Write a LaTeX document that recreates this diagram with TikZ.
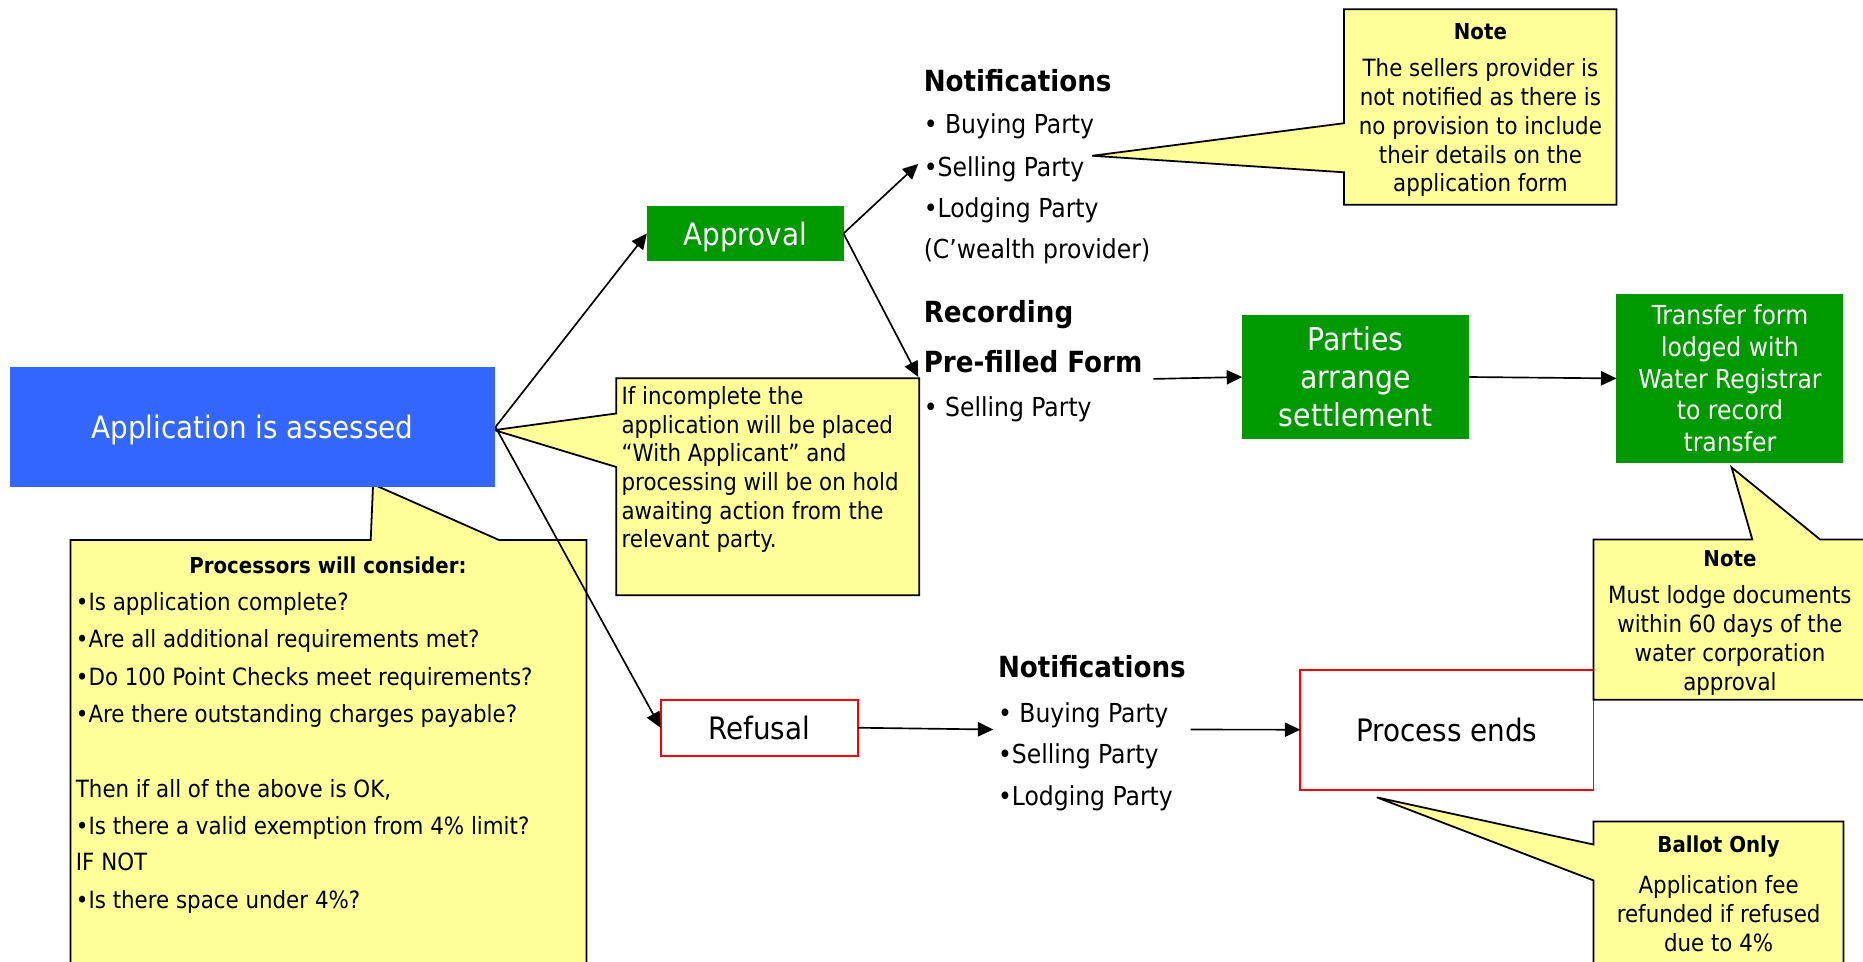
\documentclass[tikz,border=0pt]{standalone}
\usepackage{fontspec}
\setmainfont{DejaVu Sans Condensed}
\usetikzlibrary{arrows.meta}
\definecolor{appblue}{HTML}{3366FF}
\definecolor{okgreen}{HTML}{009900}
\definecolor{noteyellow}{HTML}{FFFF99}
\definecolor{endred}{HTML}{FF0000}
\newcommand\fBig{\fontsize{26}{31}\selectfont}
\newcommand\fHead{\bfseries\fontsize{24.5}{29}\selectfont}
\newcommand\fMid{\fontsize{22}{27}\selectfont}
\newcommand\fSmall{\fontsize{20}{24.2}\selectfont}
\newcommand\fSmallB{\bfseries\fontsize{18.5}{22}\selectfont}
\begin{document}
\begin{tikzpicture}[x=1pt,y=-1pt,
  box/.style={rectangle, inner sep=0pt, outer sep=0pt, align=center},
  greenbox/.style={box, fill=okgreen, text=white},
  redbox/.style={box, draw=endred, line width=1.5pt, fill=white},
  callout/.style={fill=noteyellow, draw=black, line width=1.5pt, line join=miter},
  txt/.style={inner sep=0pt, outer sep=0pt, anchor=base west},
  ctxt/.style={inner sep=0pt, outer sep=0pt, align=center},
  arr/.style={draw=black, line width=1.4pt, -{Triangle[length=13pt,width=12pt]}}
]
\useasboundingbox (0,0) rectangle (1568,809);
\fill[white] (0,0) rectangle (1568,809);
\clip (0,0) rectangle (1568,809);

% callouts behind the main box
\draw[callout] (312,454.5) -- (314,407.6) -- (420,454.5) -- (493.6,454.5) -- (493.6,830) -- (59.3,830) -- (59.3,454.5) -- cycle;
\draw[callout] (416,362) -- (518.6,348) -- (518.6,318.3) -- (773.7,318.3) -- (773.7,500.9) -- (518.6,500.9) -- (518.6,393) -- cycle;

% boxes
\node[box, fill=appblue, text=white, minimum width=408.7pt, minimum height=101.2pt, text depth=0pt, font=\fBig] (app) at (212.65,359.4) {Application is assessed};
\node[greenbox, minimum width=165.5pt, minimum height=47pt, text depth=0pt, font=\fBig] (appr) at (627.2,196.5) {Approval};
\node[redbox, minimum width=166pt, minimum height=47pt, font=\fBig] (refu) at (639,612.5) {Refusal};
\node[greenbox, minimum width=191.1pt, minimum height=103.8pt, font=\fontsize{26.5}{32}\selectfont] (part) at (1141,317.3) {Parties\\arrange\\settlement};
\node[greenbox, minimum width=191pt, minimum height=142.2pt, font=\fontsize{22}{26.75}\selectfont] (xfer) at (1456,318.5) {Transfer form\\lodged with\\Water Registrar\\to record\\transfer};
\node[redbox, minimum width=246.8pt, minimum height=101.1pt, font=\fBig] (pend) at (1217.8,614.15) {Process ends};

% other callouts
\draw[callout] (919.3,131.1) -- (1131.2,103.7) -- (1131.2,7.7) -- (1360.6,7.7) -- (1360.6,172.3) -- (1131.2,172.3) -- (1131.2,145) -- cycle;
\draw[callout] (1457.4,393.4) -- (1474.8,454) -- (1341.2,454) -- (1341.2,589) -- (1580,589) -- (1580,454) -- (1531.8,454) -- cycle;
\draw[callout] (1158.8,671.1) -- (1341.2,710.8) -- (1341.2,691.4) -- (1551.5,691.4) -- (1551.5,830) -- (1341.2,830) -- (1341.2,741) -- cycle;

% processors text
\node[ctxt, font=\fSmallB, anchor=base] (proct) at (276,482.6) {Processors will consider:};
\node[txt, font=\fSmall] (p1) at (63.9,514.2) {•Is application complete?};
\node[txt, font=\fSmall] (p2) at (63.9,545.1) {•Are all additional requirements met?};
\node[txt, font=\fSmall] (p3) at (63.9,576.8) {•Do 100 Point Checks meet requirements?};
\node[txt, font=\fSmall] (p4) at (63.9,608) {•Are there outstanding charges payable?};
\node[txt, font=\fSmall] (p5) at (63.9,671.6) {Then if all of the above is OK,};
\node[txt, font=\fSmall] (p6) at (63.9,702.3) {•Is there a valid exemption from 4\% limit?};
\node[txt, font=\fSmall] (p7) at (63.9,732.8) {IF NOT};
\node[txt, font=\fSmall] (p8) at (63.9,764.8) {•Is there space under 4\%?};

% incomplete text
\node[txt, font=\fSmall] (i1) at (523.2,340.5) {If incomplete the};
\node[txt, font=\fSmall] (i2) at (523.2,364.6) {application will be placed};
\node[txt, font=\fSmall] (i3) at (523.2,388.7) {“With Applicant” and};
\node[txt, font=\fSmall] (i4) at (523.2,412.8) {processing will be on hold};
\node[txt, font=\fSmall] (i5) at (523.2,436.9) {awaiting action from the};
\node[txt, font=\fSmall] (i6) at (523.2,461.0) {relevant party.};

% top notifications / recording
\node[txt, font=\fHead] (nt) at (777.5,76.7) {Notifications};
\node[txt, font=\fMid] (nb1) at (777.5,112.7) {• Buying Party};
\node[txt, font=\fMid] (nb2) at (777.5,148.2) {•Selling Party};
\node[txt, font=\fMid] (nb3) at (777.5,182.7) {•Lodging Party};
\node[txt, font=\fMid] (nb4) at (777.5,217.5) {(C’wealth provider)};
\node[txt, font=\fHead] (rec) at (777.5,271.6) {Recording};
\node[txt, font=\fHead] (pf) at (777.5,313.5) {Pre-filled Form};
\node[txt, font=\fMid] (pfb) at (777.5,350.2) {• Selling Party};

% lower notifications
\node[txt, font=\fHead] (lnt) at (840,570.5) {Notifications};
\node[txt, font=\fMid] (lnb1) at (840,607.7) {• Buying Party};
\node[txt, font=\fMid] (lnb2) at (840,642.7) {•Selling Party};
\node[txt, font=\fMid] (lnb3) at (840,677.7) {•Lodging Party};

% notes text
\node[ctxt, font=\fSmallB] (n1t) at (1246,26.7) {Note};
\node[ctxt, font=\fSmall] (n1b) at (1246,107.5) {The sellers provider is\\not notified as there is\\no provision to include\\their details on the\\application form};
\node[ctxt, font=\fSmallB] (n2t) at (1456,470.5) {Note};
\node[ctxt, font=\fSmall] (n2b) at (1456,539) {Must lodge documents\\within 60 days of the\\water corporation\\approval};
\node[ctxt, font=\fSmallB] (n3t) at (1446.5,712.4) {Ballot Only};
\node[ctxt, font=\fSmall] (n3b) at (1446.5,769) {Application fee\\refunded if refused\\due to 4\%};

% connectors
\coordinate (selin) at (772.9,137.9);
\coordinate (pfin) at (772.9,317.3);
\coordinate (pfout) at (970.8,318.9);
\coordinate (lnin) at (836,614);
\coordinate (lnout) at (1002,614);
\draw[arr] (app.east) -- (appr.west);
\draw[arr] (app.east) -- (refu.west);
\draw[arr] (appr.east) -- (selin);
\draw[arr] (appr.east) -- (pfin);
\draw[arr] (pfout) -- (part.west);
\draw[arr] (part.east) -- (xfer.west);
\draw[arr] (refu.east) -- (lnin);
\draw[arr] (lnout) -- (pend.west);
\end{tikzpicture}
\end{document}
